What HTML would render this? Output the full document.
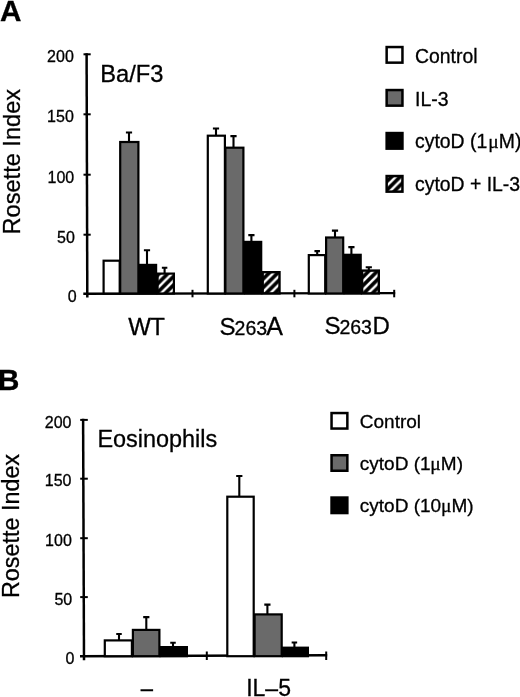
<!DOCTYPE html>
<html><head><meta charset="utf-8"><title>Figure</title>
<style>
html,body{margin:0;padding:0;background:#fff;}
body{width:520px;height:697px;overflow:hidden;font-family:"Liberation Sans",sans-serif;}
svg{display:block;}
svg text{font-family:"Liberation Sans",sans-serif;fill:#000;stroke:#000;stroke-width:0.3px;}
svg{filter:blur(0.4px);}
svg text tspan.mu{font-family:"Liberation Serif",serif;font-size:19.5px;}
</style></head>
<body>
<svg width="520" height="697" viewBox="0 0 520 697">
<defs>
<pattern id="hatch" patternUnits="userSpaceOnUse" width="8.6" height="8.6" x="3" y="4.1"><rect width="8.6" height="8.6" fill="#000"/><path d="M-2.15 2.15L2.15 -2.15M-2.15 10.75L10.75 -2.15M6.45 10.75L10.75 6.45" stroke="#fff" stroke-width="2.5"/></pattern>
<pattern id="hatchA" patternUnits="userSpaceOnUse" width="8.6" height="8.6" x="3" y="1.6"><rect width="8.6" height="8.6" fill="#000"/><path d="M-2.15 2.15L2.15 -2.15M-2.15 10.75L10.75 -2.15M6.45 10.75L10.75 6.45" stroke="#fff" stroke-width="2.5"/></pattern>
<pattern id="hatchD" patternUnits="userSpaceOnUse" width="8.6" height="8.6" x="3" y="4.8"><rect width="8.6" height="8.6" fill="#000"/><path d="M-2.15 2.15L2.15 -2.15M-2.15 10.75L10.75 -2.15M6.45 10.75L10.75 6.45" stroke="#fff" stroke-width="2.5"/></pattern>
<pattern id="hatch2" patternUnits="userSpaceOnUse" width="8.6" height="8.6" x="3" y="2"><rect width="8.6" height="8.6" fill="#000"/><path d="M-2.15 2.15L2.15 -2.15M-2.15 10.75L10.75 -2.15M6.45 10.75L10.75 6.45" stroke="#fff" stroke-width="2.5"/></pattern>
</defs>
<rect width="520" height="697" fill="#fff"/>
<path d="M86.6 53.3L87.3 297.6" stroke="#000" stroke-width="2.5" fill="none"/>
<path d="M83.3 293.8L395.2 293.1" stroke="#000" stroke-width="2.4" fill="none"/>
<path d="M83.5 54.3H90.7" stroke="#000" stroke-width="2" fill="none"/>
<path d="M83.5 114.3H90.7" stroke="#000" stroke-width="2" fill="none"/>
<path d="M83.5 174.7H90.7" stroke="#000" stroke-width="2" fill="none"/>
<path d="M83.5 234.7H90.7" stroke="#000" stroke-width="2" fill="none"/>
<path d="M192.5 289.8V297.3" stroke="#000" stroke-width="2" fill="none"/>
<path d="M294.4 289.8V297.3" stroke="#000" stroke-width="2" fill="none"/>
<path d="M394.2 289.8V297.3" stroke="#000" stroke-width="2" fill="none"/>
<text x="73.8" y="62.4" font-size="16" text-anchor="end">200</text>
<text x="73.8" y="122.4" font-size="16" text-anchor="end">150</text>
<text x="74.2" y="182.8" font-size="16" text-anchor="end">100</text>
<text x="74.8" y="242.8" font-size="16" text-anchor="end">50</text>
<text x="76.7" y="301.8" font-size="16" text-anchor="end">0</text>
<rect x="103.60" y="260.70" width="16.10" height="32.80" fill="#fff" stroke="#000" stroke-width="2.2"/>
<path d="M129.00 142.00V132.50M125.90 132.50H132.10" stroke="#000" stroke-width="2.1" fill="none"/>
<rect x="120.20" y="142.00" width="18.20" height="151.50" fill="#6a6a6a" stroke="#000" stroke-width="2.2"/>
<path d="M147.00 265.00V250.20M143.90 250.20H150.10" stroke="#000" stroke-width="2.1" fill="none"/>
<rect x="140.10" y="264.90" width="16.00" height="28.60" fill="#000" stroke="#000" stroke-width="2.2"/>
<path d="M164.60 274.00V267.80M161.85 267.80H167.35" stroke="#000" stroke-width="2.1" fill="none"/>
<rect x="157.60" y="273.60" width="16.30" height="19.90" fill="url(#hatch)" stroke="#000" stroke-width="2.2"/>
<path d="M216.00 137.00V128.50M212.90 128.50H219.10" stroke="#000" stroke-width="2.1" fill="none"/>
<rect x="207.80" y="135.70" width="17.10" height="157.80" fill="#fff" stroke="#000" stroke-width="2.2"/>
<path d="M233.50 148.00V136.10M230.40 136.10H236.60" stroke="#000" stroke-width="2.1" fill="none"/>
<rect x="225.40" y="147.70" width="18.00" height="145.80" fill="#6a6a6a" stroke="#000" stroke-width="2.2"/>
<path d="M251.40 242.00V235.10M248.30 235.10H254.50" stroke="#000" stroke-width="2.1" fill="none"/>
<rect x="245.10" y="241.90" width="16.10" height="51.60" fill="#000" stroke="#000" stroke-width="2.2"/>
<rect x="262.70" y="272.20" width="16.80" height="21.20" fill="url(#hatchA)" stroke="#000" stroke-width="2.4"/>
<path d="M317.20 255.00V251.10M314.45 251.10H319.95" stroke="#000" stroke-width="2.1" fill="none"/>
<rect x="308.80" y="255.10" width="16.40" height="38.40" fill="#fff" stroke="#000" stroke-width="2.2"/>
<path d="M335.00 238.00V230.60M331.90 230.60H338.10" stroke="#000" stroke-width="2.1" fill="none"/>
<rect x="326.10" y="237.50" width="17.10" height="56.00" fill="#6a6a6a" stroke="#000" stroke-width="2.2"/>
<path d="M351.40 255.00V247.10M348.30 247.10H354.50" stroke="#000" stroke-width="2.1" fill="none"/>
<rect x="344.80" y="254.80" width="15.90" height="38.70" fill="#000" stroke="#000" stroke-width="2.2"/>
<path d="M368.80 271.00V267.30M365.70 267.30H371.90" stroke="#000" stroke-width="2.1" fill="none"/>
<rect x="362.10" y="270.60" width="16.70" height="22.80" fill="url(#hatchD)" stroke="#000" stroke-width="2.4"/>
<text x="-0.1" y="21.1" font-size="29.7" font-weight="bold">A</text>
<text x="100.3" y="82" font-size="23.7">Ba/F3</text>
<text x="128.3" y="335" font-size="24" letter-spacing="-0.8">WT</text>
<text x="219.6" y="334.6" font-size="24">S</text><text x="234.6" y="334.6" font-size="19.5">263</text><text x="266.3" y="334.6" font-size="25">A</text>
<text x="324.6" y="334.4" font-size="24">S</text><text x="339.4" y="334.4" font-size="19.5">263</text><text x="372.4" y="334.4" font-size="24">D</text>
<text transform="translate(19.8,234.5) rotate(-90)" font-size="23.6">Rosette Index</text>
<rect x="386.65" y="47.05" width="15.80" height="15.60" fill="#fff" stroke="#000" stroke-width="2.5"/>
<text x="415" y="62.7" font-size="19.4">Control</text>
<rect x="386.65" y="90.05" width="15.80" height="15.60" fill="#6a6a6a" stroke="#000" stroke-width="2.5"/>
<text x="415" y="105.6" font-size="19.4">IL-3</text>
<rect x="386.65" y="133.05" width="15.80" height="15.60" fill="#000" stroke="#000" stroke-width="2.5"/>
<text x="415" y="148.2" font-size="19.4">cytoD (1<tspan class="mu" dx="1.0">μ</tspan><tspan dx="0.2">M)</tspan></text>
<rect x="386.65" y="176.05" width="15.80" height="15.60" fill="url(#hatch2)" stroke="#000" stroke-width="2.5"/>
<text x="415" y="190.9" font-size="19.4">cytoD + IL-3</text>
<path d="M83.1 418.8L84 660.3" stroke="#000" stroke-width="2.5" fill="none"/>
<path d="M80 656.3000000000001L327.2 655.3000000000001" stroke="#000" stroke-width="2.5" fill="none"/>
<path d="M80.2 419.9H87.8" stroke="#000" stroke-width="2" fill="none"/>
<path d="M80.2 478.7H87.8" stroke="#000" stroke-width="2" fill="none"/>
<path d="M80.2 538.2H87.8" stroke="#000" stroke-width="2" fill="none"/>
<path d="M80.2 597.1H87.8" stroke="#000" stroke-width="2" fill="none"/>
<path d="M206.8 651.5V660" stroke="#000" stroke-width="2" fill="none"/>
<path d="M326.2 651.5V660" stroke="#000" stroke-width="2" fill="none"/>
<text x="71.5" y="427.6" font-size="16" text-anchor="end">200</text>
<text x="71.5" y="486.4" font-size="16" text-anchor="end">150</text>
<text x="71.8" y="545.9" font-size="16" text-anchor="end">100</text>
<text x="72.2" y="604.8" font-size="16" text-anchor="end">50</text>
<text x="74.3" y="664.4" font-size="16" text-anchor="end">0</text>
<path d="M119.00 641.00V634.00M116.25 634.00H121.75" stroke="#000" stroke-width="2.1" fill="none"/>
<rect x="104.80" y="640.40" width="27.10" height="15.80" fill="#fff" stroke="#000" stroke-width="2.2"/>
<path d="M146.30 631.00V617.10M143.20 617.10H149.40" stroke="#000" stroke-width="2.1" fill="none"/>
<rect x="132.90" y="629.90" width="26.50" height="26.30" fill="#6a6a6a" stroke="#000" stroke-width="2.2"/>
<path d="M173.00 647.00V642.70M170.25 642.70H175.75" stroke="#000" stroke-width="2.1" fill="none"/>
<rect x="160.60" y="647.10" width="26.30" height="9.10" fill="#000" stroke="#000" stroke-width="2.2"/>
<path d="M239.30 497.00V476.00M236.20 476.00H242.40" stroke="#000" stroke-width="2.1" fill="none"/>
<rect x="227.30" y="496.70" width="26.40" height="159.50" fill="#fff" stroke="#000" stroke-width="2.2"/>
<path d="M267.40 615.00V604.60M264.30 604.60H270.50" stroke="#000" stroke-width="2.1" fill="none"/>
<rect x="254.60" y="614.40" width="27.10" height="41.80" fill="#6a6a6a" stroke="#000" stroke-width="2.2"/>
<path d="M294.40 648.00V642.50M291.65 642.50H297.15" stroke="#000" stroke-width="2.1" fill="none"/>
<rect x="282.90" y="647.70" width="25.00" height="8.50" fill="#000" stroke="#000" stroke-width="2.2"/>
<text x="-2.3" y="389.8" font-size="30" font-weight="bold">B</text>
<text x="97.4" y="447" font-size="23.45">Eosinophils</text>
<text x="140.8" y="696.2" font-size="22">–</text>
<text x="246.2" y="696.3" font-size="23">IL–5</text>
<text transform="translate(19.1,598) rotate(-90)" font-size="23.35">Rosette Index</text>
<rect x="331.55" y="413.05" width="15.80" height="15.50" fill="#fff" stroke="#000" stroke-width="2.5"/>
<text x="359.8" y="427.9" font-size="19.0">Control</text>
<rect x="331.55" y="455.25" width="15.80" height="15.50" fill="#6a6a6a" stroke="#000" stroke-width="2.5"/>
<text x="359.8" y="470.2" font-size="19.0">cytoD (1<tspan class="mu" dx="-0.2">μ</tspan><tspan dx="0">M)</tspan></text>
<rect x="331.55" y="497.55" width="15.80" height="15.50" fill="#000" stroke="#000" stroke-width="2.5"/>
<text x="359.8" y="512.1" font-size="19.0">cytoD (10<tspan class="mu" dx="-0.2">μ</tspan><tspan dx="0">M)</tspan></text>
</svg>
</body></html>
